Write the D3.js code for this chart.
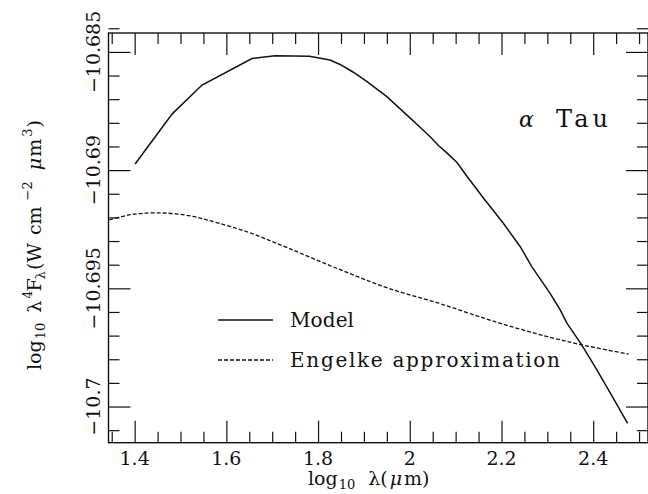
<!DOCTYPE html>
<html>
<head>
<meta charset="utf-8">
<script src="https://cdn.jsdelivr.net/npm/d3@7"></script>
<style>
  html, body { margin: 0; padding: 0; background: #fff; }
  svg { display: block; }
  text { font-family: "DejaVu Serif", serif; fill: #111; }
</style>
</head>
<body>
<svg id="chart" width="648" height="494"></svg>
<script>
// ---- data ----
const modelX = [1.401, 1.482, 1.547, 1.656, 1.706, 1.781, 1.826, 1.848, 1.877, 1.906, 1.950, 2.001, 2.023, 2.045, 2.063, 2.081, 2.103, 2.125, 2.161, 2.204, 2.241, 2.266, 2.306, 2.328, 2.343, 2.375, 2.408, 2.444, 2.475];
const modelY = [-10.68974, -10.68762, -10.68640, -10.68528, -10.68516, -10.68518, -10.68534, -10.68553, -10.68586, -10.68625, -10.68689, -10.68780, -10.68820, -10.68860, -10.68897, -10.68927, -10.68968, -10.69027, -10.69119, -10.69225, -10.69324, -10.69408, -10.69521, -10.69591, -10.69648, -10.69739, -10.69845, -10.69965, -10.70071];
const engelkeX = [1.345, 1.379, 1.410, 1.450, 1.490, 1.530, 1.568, 1.648, 1.735, 1.844, 1.954, 2.063, 2.160, 2.234, 2.306, 2.375, 2.477];
const engelkeY = [-10.69211, -10.69193, -10.69184, -10.69181, -10.69185, -10.69197, -10.69216, -10.69263, -10.69330, -10.69418, -10.69500, -10.69563, -10.69625, -10.69669, -10.69707, -10.69739, -10.69778];
const xTickValues = [1.4, 1.6, 1.8, 2.0, 2.2, 2.4];
const xTickLabels = ["1.4", "1.6", "1.8", "2", "2.2", "2.4"];
const yTickValues = [-10.7, -10.695, -10.69, -10.685];
const yTickLabels = ["\u221210.7", "\u221210.695", "\u221210.69", "\u221210.685"];
const seriesNames = ["Model", "Engelke approximation"];
const starName = ["\u03B1", "Tau"];

// ---- layout ----
const svg = d3.select("#chart");
const L = 108.5, R = 648, T = 33, B = 442.7;
const x = d3.scaleLinear().domain([1.343, 2.5195]).range([L, R]);
const y = d3.scaleLinear().domain([-10.70153, -10.6842]).range([B, T]);

const xMinor = d3.range(1.35, 2.5201, 0.05).map(v => +v.toFixed(2)).filter(v => !xTickValues.some(m => Math.abs(m - v) < 1e-6));
const yMinor = d3.range(-10.701, -10.6839, 0.001).map(v => +v.toFixed(3)).filter(v => !yTickValues.some(m => Math.abs(m - v) < 1e-6));

const MAJ = 22, MIN = 11;
function styleAxis(g) {
  g.select(".domain").remove();
  g.selectAll(".tick line").attr("stroke", "#111").attr("stroke-width", 1.2);
  g.selectAll(".tick text").remove();
}
svg.append("g").attr("transform", `translate(0,${B})`).call(d3.axisBottom(x).tickValues(xTickValues).tickSize(-MAJ)).call(styleAxis);
svg.append("g").attr("transform", `translate(0,${B})`).call(d3.axisBottom(x).tickValues(xMinor).tickSize(-MIN)).call(styleAxis);
svg.append("g").attr("transform", `translate(0,${T})`).call(d3.axisTop(x).tickValues(xTickValues).tickSize(-MAJ)).call(styleAxis);
svg.append("g").attr("transform", `translate(0,${T})`).call(d3.axisTop(x).tickValues(xMinor).tickSize(-MIN)).call(styleAxis);
svg.append("g").attr("transform", `translate(${L},0)`).call(d3.axisLeft(y).tickValues(yTickValues).tickSize(-MAJ)).call(styleAxis);
svg.append("g").attr("transform", `translate(${L},0)`).call(d3.axisLeft(y).tickValues(yMinor).tickSize(-MIN)).call(styleAxis);
svg.append("g").attr("transform", `translate(${R},0)`).call(d3.axisRight(y).tickValues(yTickValues).tickSize(-MAJ)).call(styleAxis);
svg.append("g").attr("transform", `translate(${R},0)`).call(d3.axisRight(y).tickValues(yMinor).tickSize(-MIN)).call(styleAxis);

svg.append("rect").attr("x", L).attr("y", T).attr("width", R - L).attr("height", B - T)
  .attr("fill", "none").attr("stroke", "#111").attr("stroke-width", 1.4);

// tick labels
svg.append("g").selectAll("text").data(xTickValues).join("text")
  .attr("x", d => x(d)).attr("y", 465).attr("text-anchor", "middle")
  .attr("font-size", 19).text((d, i) => xTickLabels[i]);
svg.append("g").selectAll("text").data(yTickValues).join("text")
  .attr("transform", d => `translate(100,${y(d)}) rotate(-90)`)
  .attr("text-anchor", "middle").attr("font-size", 19).text((d, i) => yTickLabels[i]);

// axis titles
const xt = svg.append("text").attr("x", 308).attr("y", 485).attr("font-size", 19);
xt.append("tspan").text("log");
xt.append("tspan").attr("font-size", 13).attr("dy", 4).attr("dx", 1).text("10");
xt.append("tspan").attr("dy", -4).attr("dx", 13).text("\u03BB(");
xt.append("tspan").attr("font-style", "italic").attr("dx", 2).text("\u03BC");
xt.append("tspan").attr("dx", 2).text("m)");

const yt = svg.append("text").attr("transform", "translate(41,370) rotate(-90)").attr("font-size", 19);
yt.append("tspan").text("log");
yt.append("tspan").attr("font-size", 13).attr("dy", 4).attr("dx", 1).text("10");
yt.append("tspan").attr("dy", -4).attr("dx", 10).text("\u03BB");
yt.append("tspan").attr("font-size", 13).attr("dy", -9).attr("dx", 2).text("4");
yt.append("tspan").attr("dy", 9).attr("dx", -1).text("F");
yt.append("tspan").attr("font-size", 13).attr("dy", 4).attr("dx", -1).text("\u03BB");
yt.append("tspan").attr("dy", -4).attr("dx", 1).text("(W");
yt.append("tspan").attr("dx", 8).text("cm");
yt.append("tspan").attr("font-size", 13).attr("dy", -9).attr("dx", 6).text("\u22122");
yt.append("tspan").attr("dy", 9).attr("dx", 11).attr("font-style", "italic").text("\u03BC");
yt.append("tspan").attr("dx", 1).text("m");
yt.append("tspan").attr("font-size", 13).attr("dy", -9).attr("dx", 2).text("3");
yt.append("tspan").attr("dy", 9).attr("dx", 1).text(")");

// curves
svg.append("clipPath").attr("id", "plotclip").append("rect")
  .attr("x", L).attr("y", T).attr("width", R - L).attr("height", B - T);
const lineModel = d3.line().x(d => x(d[0])).y(d => y(d[1]));
const lineEng = d3.line().x(d => x(d[0])).y(d => y(d[1])).curve(d3.curveCatmullRom);
svg.append("path").datum(modelX.map((v, i) => [v, modelY[i]]))
  .attr("d", lineModel).attr("fill", "none").attr("stroke", "#111").attr("stroke-width", 1.5)
  .attr("clip-path", "url(#plotclip)");
svg.append("path").datum(engelkeX.map((v, i) => [v, engelkeY[i]]))
  .attr("d", lineEng).attr("fill", "none").attr("stroke", "#111").attr("stroke-width", 1.3)
  .attr("stroke-dasharray", "4,2").attr("clip-path", "url(#plotclip)");

// legend
const leg = [
  { name: seriesNames[0], dash: null, ly: 320, len: 64 },
  { name: seriesNames[1], dash: "4,2", ly: 360, len: 270 }
];
leg.forEach(d => {
  svg.append("line").attr("x1", 218).attr("x2", 273).attr("y1", d.ly).attr("y2", d.ly)
    .attr("stroke", "#111").attr("stroke-width", d.dash ? 1.3 : 1.5)
    .attr("stroke-dasharray", d.dash);
  svg.append("text").attr("x", 290).attr("y", d.ly + 7).attr("font-size", 20)
    .attr("textLength", d.len).attr("lengthAdjust", "spacing").text(d.name);
});

// star label
svg.append("text").attr("x", 519).attr("y", 127).attr("font-size", 22).attr("font-style", "italic").text(starName[0]);
svg.append("text").attr("x", 556).attr("y", 127).attr("font-size", 24)
  .attr("textLength", 52).attr("lengthAdjust", "spacing").text(starName[1]);
</script>
</body>
</html>
